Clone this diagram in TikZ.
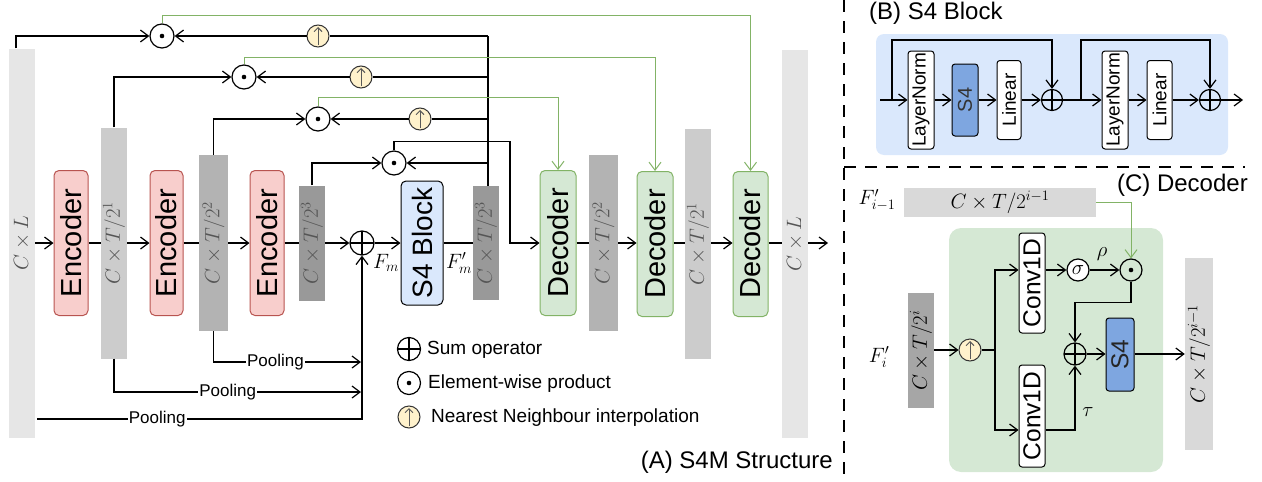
\documentclass[tikz,border=0pt]{standalone}
\usepackage{fontspec}
\setmainfont{Liberation Sans}
\usetikzlibrary{arrows.meta}
\definecolor{encF}{HTML}{F8CECC}
\definecolor{encD}{HTML}{B85450}
\definecolor{decF}{HTML}{D5E8D4}
\definecolor{decD}{HTML}{82B366}
\definecolor{blkF}{HTML}{DAE8FC}
\definecolor{sfourF}{HTML}{7EA6E0}
\definecolor{upF}{HTML}{FFF2CC}
\definecolor{barA}{HTML}{E6E6E6}
\definecolor{barB}{HTML}{CCCCCC}
\definecolor{barC}{HTML}{B3B3B3}
\definecolor{barD}{HTML}{999999}
\definecolor{barE}{HTML}{D9D9D9}
\definecolor{barF}{HTML}{A6A6A6}
\definecolor{lblG}{HTML}{555555}
\tikzset{
  ln/.style={line width=1.2pt},
  arr/.style={line width=1.2pt,-{Straight Barb[length=8pt,width=12pt]}},
  garr/.style={draw=decD,line width=1pt,-{Straight Barb[length=8pt,width=12pt]}},
  encbox/.style={draw=encD,fill=encF,line width=1pt,rounded corners=5pt,inner sep=0pt,minimum width=34pt,minimum height=145pt},
  decbox/.style={draw=decD,fill=decF,line width=1pt,rounded corners=5pt,inner sep=0pt,minimum width=36pt,minimum height=145pt},
  barbox/.style={inner sep=0pt,minimum width=26pt},
  barlbl/.style={rotate=90,text=lblG,inner sep=0pt,font=\fontsize{20.5}{24}\selectfont},
  vtxt/.style={rotate=90,inner sep=0pt,font=\fontsize{29}{34}\selectfont},
  wbox/.style={draw,fill=white,line width=1pt,rounded corners=3pt,inner sep=0pt},
  btxt/.style={rotate=90,inner sep=0pt,font=\fontsize{19}{22}\selectfont},
  ctxt/.style={rotate=90,inner sep=0pt,font=\fontsize{24.5}{28}\selectfont},
  mlbl/.style={inner sep=0pt,font=\fontsize{22}{26}\selectfont},
  pool/.style={fill=white,inner sep=1pt,font=\fontsize{17}{20}\selectfont},
  lgt/.style={anchor=west,inner sep=0pt,font=\fontsize{19}{22}\selectfont},
  ttl/.style={inner sep=0pt,font=\fontsize{24}{28}\selectfont},
  sumc/.style={circle,draw,line width=1.2pt,minimum size=24pt,inner sep=0pt,
    path picture={\draw[line width=1.2pt] (path picture bounding box.north) -- (path picture bounding box.south)
      (path picture bounding box.west) -- (path picture bounding box.east);}},
  odc/.style={circle,draw,line width=1.2pt,minimum size=24pt,inner sep=0pt,
    path picture={\fill (path picture bounding box.center) circle (2.3pt);}},
  upc/.style={circle,draw=black!80,fill=upF,line width=1pt,minimum size=22pt,inner sep=0pt,
    path picture={\draw[black!65,line width=1pt,-{Straight Barb[length=4pt,width=8pt]}]
      ([yshift=2pt]path picture bounding box.south) -- ([yshift=-2pt]path picture bounding box.north);}},
}
\begin{document}
\begin{tikzpicture}[x=1pt,y=-1pt]
\useasboundingbox (0,0) rectangle (1262,482);

% ---------------- (A) main structure ----------------
\node[barbox,fill=barA,minimum height=389pt] (b0) at (22,243) {};
\node[barlbl] (t0) at (b0.center) {$C\times L$};
\node[encbox] (e1) at (71,243) {};
\node[vtxt] (te1) at (e1.center) {Encoder};
\node[barbox,fill=barB,minimum height=231pt] (b1) at (114,243) {};
\node[barlbl] (t1) at (b1.center) {$C\times T/2^1$};
\node[encbox,minimum width=33pt] (e2) at (166.5,243) {};
\node[vtxt] (te2) at (e2.center) {Encoder};
\node[barbox,fill=barC,minimum width=29pt,minimum height=176pt] (b2) at (213.5,243) {};
\node[barlbl] (t2) at (b2.center) {$C\times T/2^2$};
\node[encbox] (e3) at (267,243) {};
\node[vtxt] (te3) at (e3.center) {Encoder};
\node[barbox,fill=barD,minimum height=115pt] (b3) at (312,243) {};
\node[barlbl] (t3) at (b3.center) {$C\times T/2^3$};
\node[sumc] (sum) at (362,243) {};
\node[draw,fill=blkF,line width=1pt,rounded corners=5pt,inner sep=0pt,minimum width=42pt,minimum height=124pt] (s4) at (422,243) {};
\node[vtxt,font=\fontsize{28}{32}\selectfont] (ts4) at (s4.center) {S4 Block};
\node[barbox,fill=barD,minimum height=114pt] (b4) at (486,243) {};
\node[barlbl] (t4) at (b4.center) {$C\times T/2^3$};
\node[decbox] (d1) at (558,243) {};
\node[vtxt] (td1) at (d1.center) {Decoder};
\node[barbox,fill=barC,minimum width=29pt,minimum height=176pt] (b5) at (603.5,243) {};
\node[barlbl] (t5) at (b5.center) {$C\times T/2^2$};
\node[decbox] (d2) at (655,244) {};
\node[vtxt] (td2) at (d2.center) {Decoder};
\node[barbox,fill=barB,minimum height=230pt] (b6) at (698,244) {};
\node[barlbl] (t6) at (b6.center) {$C\times T/2^1$};
\node[decbox,minimum width=35pt] (d3) at (750.5,244) {};
\node[vtxt] (td3) at (d3.center) {Decoder};
\node[barbox,fill=barA,minimum height=388pt] (b7) at (795,244) {};
\node[barlbl] (t7) at (b7.center) {$C\times L$};
\coordinate (outA) at (828,243);

\node[mlbl] (fm) at (386,263) {$F_m$};
\node[mlbl] (fmp) at (459,263) {$F'_m$};

% main line
\draw[arr] (b0.east |- 0,243) -- (e1.west |- 0,243);
\draw[ln] (e1.east |- 0,243) -- (b1.west |- 0,243);
\draw[arr] (b1.east |- 0,243) -- (e2.west |- 0,243);
\draw[ln] (e2.east |- 0,243) -- (b2.west |- 0,243);
\draw[arr] (b2.east |- 0,243) -- (e3.west |- 0,243);
\draw[ln] (e3.east |- 0,243) -- (b3.west |- 0,243);
\draw[arr] (b3.east |- 0,243) -- (sum.west);
\draw[arr] (sum.east) -- (s4.west);
\draw[ln] (s4.east) -- (b4.west);
\draw[ln] (d1.east |- 0,243) -- (b5.west |- 0,243);
\draw[arr] (b5.east |- 0,243) -- (d2.west |- 0,243);
\draw[ln] (d2.east |- 0,243) -- (b6.west |- 0,243);
\draw[arr] (b6.east |- 0,243) -- (d3.west |- 0,243);
\draw[ln] (d3.east |- 0,243) -- (b7.west |- 0,243);
\draw[arr] (b7.east |- 0,243) -- (outA);

% gating products
\node[odc] (od1) at (162,36) {};
\node[odc] (od2) at (244,77) {};
\node[odc] (od3) at (318,119) {};
\node[odc] (od4) at (394,163) {};
\node[upc] (u1) at (318,36) {};
\node[upc] (u2) at (361,77) {};
\node[upc] (u3) at (420,119) {};

\draw[arr] ([xshift=-6pt]b0.north) |- (od1.west);
\draw[arr] (b1.north) |- (od2.west);
\draw[arr] (b2.north) |- (od3.west);
\draw[arr] (b3.north) |- (od4.west);

\draw[ln] ([xshift=2pt]b4.north) -- ([xshift=2pt]b4.north |- od1.center);
\draw[ln] ([xshift=2pt]b4.north |- od1.center) -- (u1.east);
\draw[arr] (u1.west) -- (od1.east);
\draw[ln] ([xshift=2pt]b4.north |- od2.center) -- (u2.east);
\draw[arr] (u2.west) -- (od2.east);
\draw[ln] ([xshift=2pt]b4.north |- od3.center) -- (u3.east);
\draw[arr] (u3.west) -- (od3.east);
\draw[arr] ([xshift=2pt]b4.north |- od4.center) -- (od4.east);

\draw[garr] (od1.north) -- ++(0,-8) -| (d3.north);
\draw[garr] (od2.north) -- ++(0,-7) -| (d2.north);
\draw[garr] (od3.north) -- ++(0,-9) -| (d1.north);
\coordinate (k4) at (510,243);
\draw[arr] (od4.north) -- ++(0,-9) -| (k4) -- (d1.west |- k4);

% pooling
\coordinate (pA) at (361,362);
\coordinate (pB) at (361,392);
\coordinate (pC) at (37,419);
\draw[arr] (b2.south) |- node[pool,pos=0.71] (pl1) {Pooling} (pA);
\draw[arr] (b1.south) |- node[pool,pos=0.73] (pl2) {Pooling} (pB);
\draw[arr] (pC) -| node[pool,pos=0.185] (pl3) {Pooling} (sum.south);

% legend
\node[sumc,minimum size=23pt] (lg1) at (409,349) {};
\node[lgt] (lg1t) at (427,350) {Sum operator};
\node[odc,minimum size=23pt] (lg2) at (409,383) {};
\node[lgt] (lg2t) at (428,384) {Element-wise product};
\node[upc] (lg3) at (409,417) {};
\node[lgt] (lg3t) at (431,418) {Nearest Neighbour interpolation};

\node[ttl,anchor=east] (tA) at (833,462) {(A) S4M Structure};

% separators
\draw[line width=1.2pt,dash pattern=on 12pt off 9pt] (844,0) -- (844,482);
\draw[line width=1.2pt,dash pattern=on 12pt off 9pt] (844,167) -- (1245,167);

% ---------------- (B) S4 block ----------------
\node[ttl,anchor=west] (tB) at (869,13) {(B) S4 Block};
\node[fill=blkF,rounded corners=8pt,inner sep=0pt,minimum width=352pt,minimum height=121pt] (pnB) at (1052,94.5) {};
\node[wbox,minimum width=26pt,minimum height=98pt] (ln1) at (921,100) {};
\node[btxt] (tln1) at (ln1.center) {LayerNorm};
\node[wbox,fill=sfourF,minimum width=26pt,minimum height=72pt] (s4b) at (965,100) {};
\node[btxt,font=\fontsize{20}{24}\selectfont,text=black!80] (ts4b) at (s4b.center) {S4};
\node[wbox,minimum width=24pt,minimum height=79pt] (li1) at (1009,100) {};
\node[btxt] (tli1) at (li1.center) {Linear};
\node[sumc,minimum size=21pt] (pl1b) at (1052,100) {};
\node[wbox,minimum width=26pt,minimum height=98pt] (ln2) at (1115,100) {};
\node[btxt] (tln2) at (ln2.center) {LayerNorm};
\node[wbox,minimum width=25pt,minimum height=79pt] (li2) at (1159.5,100) {};
\node[btxt] (tli2) at (li2.center) {Linear};
\node[sumc,minimum size=21pt] (pl2b) at (1210,100) {};
\coordinate (inB) at (880,100);
\coordinate (outB) at (1243,100);
\coordinate (sk1) at (892,100);
\coordinate (sk2) at (1081,100);
\draw[arr] (inB) -- (ln1.west);
\draw[arr] (ln1.east) -- (s4b.west);
\draw[arr] (s4b.east) -- (li1.west);
\draw[arr] (li1.east) -- (pl1b.west);
\draw[arr] (pl1b.east) -- (ln2.west);
\draw[arr] (ln2.east) -- (li2.west);
\draw[arr] (li2.east) -- (pl2b.west);
\draw[arr] (pl2b.east) -- (outB);
\draw[arr] (sk1) -- ++(0,-60) -| (pl1b.north);
\draw[arr] (sk2) -- ++(0,-60) -| (pl2b.north);

% ---------------- (C) Decoder ----------------
\node[ttl,anchor=east] (tC) at (1248,185) {(C) Decoder};
\node[fill=barE,inner sep=0pt,minimum width=192pt,minimum height=29pt,font=\fontsize{20.5}{24}\selectfont] (ctop) at (1000,202.5) {$C\times T/2^{i-1}$};
\node[mlbl] (fi1) at (877,200) {$F'_{i-1}$};
\node[fill=decF,rounded corners=12pt,inner sep=0pt,minimum width=214pt,minimum height=244pt] (pnC) at (1056,350) {};
\node[barbox,fill=barF,minimum height=115pt] (clb) at (921,350.5) {};
\node[barlbl,text=black] (tclb) at (clb.center) {$C\times T/2^i$};
\node[mlbl] (fi) at (879,357) {$F'_i$};
\node[upc] (uc) at (970,350) {};
\node[wbox,minimum width=26pt,minimum height=100pt] (cv1) at (1032,283) {};
\node[ctxt] (tcv1) at (cv1.center) {Conv1D};
\node[wbox,minimum width=26pt,minimum height=102pt] (cv2) at (1032,416) {};
\node[ctxt] (tcv2) at (cv2.center) {Conv1D};
\node[circle,draw,fill=white,line width=1.2pt,minimum size=22pt,inner sep=0pt,font=\fontsize{21}{24}\selectfont] (sg) at (1078,270) {$\sigma$};
\node[odc,minimum size=22pt] (odC) at (1131,270) {};
\node[mlbl] (rho) at (1102,254) {$\rho$};
\node[sumc,minimum size=22pt] (pc) at (1075,354) {};
\node[mlbl] (tau) at (1088,412) {$\tau$};
\node[wbox,fill=sfourF,minimum width=28pt,minimum height=73pt] (s4c) at (1120,354.5) {};
\node[ctxt,text=black!85] (ts4c) at (s4c.center) {S4};
\node[barbox,fill=barE,minimum width=28pt,minimum height=192pt] (crb) at (1199,354) {};
\node[barlbl,text=black] (tcrb) at (crb.center) {$C\times T/2^{i-1}$};
\coordinate (spl) at (995,350);
\coordinate (cy) at (0,430);
\draw[arr] (clb.east |- uc.center) -- (uc.west);
\draw[ln] (uc.east) -- (spl);
\draw[arr] (spl) |- (cv1.west |- sg.center);
\draw[arr] (spl) |- (cv2.west |- cy);
\draw[arr] (cv1.east |- sg.center) -- (sg.west);
\draw[arr] (sg.east) -- (odC.west);
\draw[garr] (ctop.east) -| (odC.north);
\draw[arr] (odC.south) -- ++(0,21) -| (pc.north);
\draw[arr] (cv2.east |- cy) -| (pc.south);
\draw[arr] (pc.east) -- (s4c.west |- pc.center);
\draw[arr] (s4c.east |- pc.center) -- (crb.west |- pc.center);
\end{tikzpicture}
\end{document}
